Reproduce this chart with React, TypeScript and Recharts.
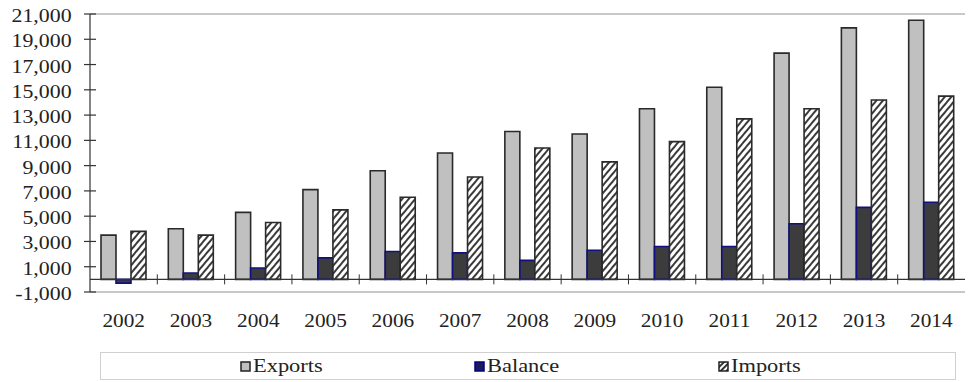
import { BarChart, Bar, XAxis, YAxis, Legend, ReferenceLine } from 'recharts'

const years = ['2002', '2003', '2004', '2005', '2006', '2007', '2008', '2009', '2010', '2011', '2012', '2013', '2014']
const exportsValues = [3500, 4000, 5300, 7100, 8600, 10000, 11700, 11500, 13500, 15200, 17900, 19900, 20500]
const balanceValues = [-300, 500, 900, 1700, 2200, 2100, 1500, 2300, 2600, 2600, 4400, 5700, 6100]
const importsValues = [3800, 3500, 4500, 5500, 6500, 8100, 10400, 9300, 10900, 12700, 13500, 14200, 14500]
const yTicks = [-1000, 1000, 3000, 5000, 7000, 9000, 11000, 13000, 15000, 17000, 19000, 21000]

const data = years.map((year, i) => ({
  year,
  exports: exportsValues[i],
  balance: balanceValues[i],
  imports: importsValues[i],
}))

const FONT = '"Liberation Serif", "Times New Roman", serif'
const TEXT = '#222'
const Y_MIN = -1000
const Y_MAX = 21000

// y tick: a small cross on the axis plus a stretched serif label
const YTick = ({ x, y, payload }: any) => (
  <g transform={`translate(${x},${y})`}>
    <line x1={-6} x2={6} y1={0} y2={0} stroke="#333" strokeWidth={1.2} />
    <text
      transform="scale(1.15,1)"
      x={-16}
      y={8}
      textAnchor="end"
      fontFamily={FONT}
      fontSize={19}
      fill={TEXT}
    >
      {payload.value.toLocaleString('en-US')}
    </text>
  </g>
)

// x tick: year label below the plot, and a divider tick on the zero line
const XTick = ({ x, y, payload, index, visibleTicksCount }: any) => {
  const half = payload.offset || 33.7
  const plotHeight = 278
  const zeroY = y - (plotHeight * (0 - Y_MIN)) / (Y_MAX - Y_MIN)
  const last = index === (visibleTicksCount || years.length) - 1
  return (
    <g>
      {!last && (
        <line x1={x + half} x2={x + half} y1={zeroY - 5} y2={zeroY + 5} stroke="#333" strokeWidth={1} />
      )}
      <g transform={`translate(${x},${y + 35})`}>
        <text transform="scale(1.12,1)" textAnchor="middle" fontFamily={FONT} fontSize={19} fill={TEXT}>
          {payload.value}
        </text>
      </g>
    </g>
  )
}

const legendItems = [
  { label: 'Exports', width: 234, kind: 'exports' },
  { label: 'Balance', width: 244, kind: 'balance' },
  { label: 'Imports', width: 120, kind: 'imports' },
]

const LegendIcon = ({ kind }: { kind: string }) => (
  <svg width={11} height={11} style={{ marginRight: 2 }}>
    <defs>
      <pattern id="legendHatch" patternUnits="userSpaceOnUse" width={4} height={4} patternTransform="rotate(45)">
        <rect width={4} height={4} fill="#fff" />
        <rect width={2} height={4} fill="#333" />
      </pattern>
    </defs>
    <rect
      x={1}
      y={1}
      width={9}
      height={9}
      fill={kind === 'exports' ? '#c0c0c0' : kind === 'balance' ? '#1c1c5c' : 'url(#legendHatch)'}
      stroke={kind === 'balance' ? '#000080' : '#222'}
      strokeWidth={1.5}
    />
  </svg>
)

const BoxLegend = () => (
  <div
    style={{
      boxSizing: 'border-box',
      height: 28,
      border: '1px solid #d0d0d0',
      display: 'flex',
      alignItems: 'center',
      paddingLeft: 139,
      fontFamily: FONT,
      fontSize: 19,
      color: TEXT,
    }}
  >
    {legendItems.map((item) => (
      <div key={item.label} style={{ width: item.width, display: 'flex', alignItems: 'center' }}>
        <LegendIcon kind={item.kind} />
        <span style={{ display: 'inline-block', transform: 'scaleX(1.18)', transformOrigin: 'left center' }}>
          {item.label}
        </span>
      </div>
    ))}
  </div>
)

export default function App() {
  return (
    <div>
      <style>{`body { margin: 0; background: #fff; }`}</style>
      <BarChart
        width={968}
        height={382}
        data={data}
        margin={{ top: 14, right: 3, left: 0, bottom: 2 }}
        barCategoryGap={11}
        barGap={0}
      >
        <defs>
          <pattern id="importsHatch" patternUnits="userSpaceOnUse" width={5} height={5} patternTransform="rotate(40)">
            <rect width={5} height={5} fill="#fff" />
            <rect width={2} height={5} fill="#3a3a3a" />
          </pattern>
        </defs>
        <XAxis
          dataKey="year"
          height={60}
          tickSize={0}
          tickMargin={0}
          tickLine={false}
          axisLine={{ stroke: '#c8c8c8', strokeWidth: 2 }}
          tick={<XTick />}
          interval={0}
        />
        <YAxis
          yAxisId="left"
          width={90}
          domain={[Y_MIN, Y_MAX]}
          ticks={yTicks}
          tickSize={0}
          tickMargin={0}
          tickLine={false}
          axisLine={{ stroke: '#333', strokeWidth: 1.2 }}
          tick={<YTick />}
          interval={0}
        />
        <YAxis
          yAxisId="right"
          orientation="right"
          width={0}
          domain={[Y_MIN, Y_MAX]}
          tick={false}
          tickLine={false}
          axisLine={{ stroke: '#c8c8c8', strokeWidth: 1.5 }}
        />
        <ReferenceLine yAxisId="left" y={Y_MAX} stroke="#c8c8c8" strokeWidth={2} />
        <Legend verticalAlign="bottom" content={<BoxLegend />} wrapperStyle={{ left: 100, width: 856, bottom: 2 }} />
        <Bar
          yAxisId="left"
          dataKey="exports"
          name="Exports"
          fill="#c0c0c0"
          stroke="#2a2a2a"
          strokeWidth={1.6}
          isAnimationActive={false}
        />
        <Bar
          yAxisId="left"
          dataKey="balance"
          name="Balance"
          fill="#3c3c3c"
          stroke="#101080"
          strokeWidth={1.6}
          isAnimationActive={false}
        />
        <Bar
          yAxisId="left"
          dataKey="imports"
          name="Imports"
          fill="url(#importsHatch)"
          stroke="#2a2a2a"
          strokeWidth={1.6}
          isAnimationActive={false}
        />
        <ReferenceLine yAxisId="left" y={0} stroke="#333" strokeWidth={1.2} />
      </BarChart>
    </div>
  )
}
